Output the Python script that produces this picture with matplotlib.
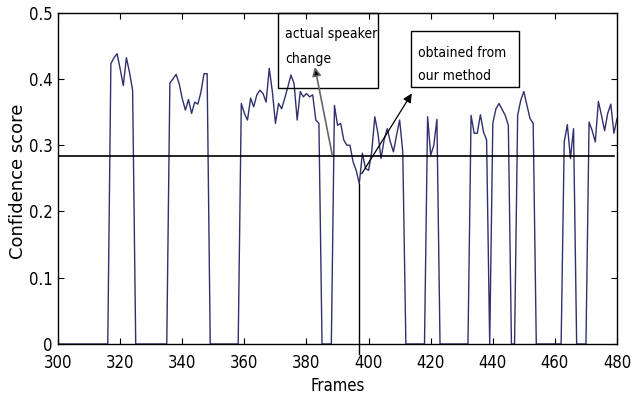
import numpy as np
import matplotlib
matplotlib.use("Agg")
import matplotlib.pyplot as plt
from matplotlib import font_manager
from matplotlib.font_manager import FontProperties
from matplotlib.patches import Rectangle

# ---------------- data ----------------
frame_start = 300
frame_end = 480
# nonzero runs of the confidence score: first frame of each run and its values
seg_starts = [317, 336, 359, 389, 419, 433, 440, 448, 463, 471]
seg_values = [
    [0.423, 0.432, 0.438, 0.415, 0.39, 0.432, 0.41, 0.383],
    [0.394, 0.40, 0.407, 0.393, 0.37, 0.353, 0.369, 0.348, 0.365, 0.362, 0.38, 0.408, 0.408],
    [0.363, 0.348, 0.338, 0.371, 0.358, 0.376, 0.383, 0.378, 0.365, 0.416, 0.381, 0.333,
     0.363, 0.355, 0.371, 0.388, 0.406, 0.393, 0.338, 0.381, 0.373, 0.378, 0.373, 0.376,
     0.338, 0.333],
    [0.36, 0.33, 0.333, 0.308, 0.30, 0.30, 0.275, 0.262, 0.242, 0.288, 0.265, 0.262, 0.29,
     0.343, 0.318, 0.28, 0.308, 0.325, 0.305, 0.29, 0.315, 0.338, 0.29],
    [0.343, 0.285, 0.30, 0.339],
    [0.345, 0.318, 0.318, 0.346, 0.32, 0.308],
    [0.333, 0.355, 0.363, 0.354, 0.345, 0.33],
    [0.345, 0.368, 0.381, 0.36, 0.34, 0.333],
    [0.305, 0.331, 0.28, 0.325],
    [0.335, 0.322, 0.305, 0.366, 0.345, 0.322, 0.348, 0.362, 0.318, 0.340],
]
threshold = 0.283
threshold_end = 479
detected_frame = 397
detected_score = 0.242

x_ticks = [300, 320, 340, 360, 380, 400, 420, 440, 460, 480]
y_ticks = [0, 0.1, 0.2, 0.3, 0.4, 0.5]
y_tick_labels = ["0", "0.1", "0.2", "0.3", "0.4", "0.5"]

frames = np.arange(frame_start, frame_end + 1)
scores = np.zeros(len(frames))
for s, vals in zip(seg_starts, seg_values):
    scores[s - frame_start: s - frame_start + len(vals)] = vals

# ---------------- fonts ----------------
def find_narrow():
    prefs = ["LiberationSansNarrow-Regular", "DejaVuSansCondensed.ttf",
             "RobotoCondensed-Regular", "OpenSans_Condensed-Regular",
             "OpenSansCondensed"]
    files = [f.fname for f in font_manager.fontManager.ttflist]
    for p in prefs:
        for fn in files:
            if p.lower() in fn.lower():
                return fn
    for fn in files:
        low = fn.lower()
        if ("narrow" in low or "condensed" in low) and "bold" not in low \
                and "italic" not in low and "oblique" not in low and "light" not in low:
            return fn
    return None

narrow_file = find_narrow()
if narrow_file:
    def nfp(size):
        return FontProperties(fname=narrow_file, size=size)
    tick_size, box_size, xl_size = 12, 10, 12
else:
    def nfp(size):
        return FontProperties(family="Liberation Sans", size=size)
    tick_size, box_size, xl_size = 10.5, 9.5, 10.5

fig = plt.figure(figsize=(6.39, 4.04), dpi=100)
ax = fig.add_axes([0.0909, 0.1485, 0.8747, 0.8201])

ax.plot(frames, scores, color="#30306e", lw=1.0)
ax.plot([frame_start, threshold_end], [threshold, threshold], color="black", lw=1.2)
ax.plot([detected_frame, detected_frame], [-0.015, detected_score], color="black",
        lw=1.0, clip_on=False)

ax.set_xlim(frame_start, frame_end)
ax.set_ylim(0, 0.5)
ax.set_xticks(x_ticks)
ax.set_xticklabels([str(t) for t in x_ticks])
ax.set_yticks(y_ticks)
ax.set_yticklabels(y_tick_labels)
for lbl in ax.get_xticklabels() + ax.get_yticklabels():
    lbl.set_fontproperties(nfp(tick_size))
ax.tick_params(direction="in", length=4, width=0.8, top=True, right=True)
ax.tick_params(axis="x", pad=7.5)
ax.tick_params(axis="y", pad=4)
for sp in ax.spines.values():
    sp.set_linewidth(1.0)

ax.set_xlabel("Frames", fontproperties=nfp(xl_size), labelpad=3)
ax.set_ylabel("Confidence score", family="DejaVu Sans", fontsize=13)
ax.yaxis.set_label_coords(-0.0556, 0.49)

# annotation boxes
box1 = Rectangle((370.7, 0.386), 403.1 - 370.7, 0.5 - 0.386, fill=False,
                 ec="black", lw=1.0, clip_on=False, zorder=5)
ax.add_patch(box1)
ax.text(373, 0.4615, "actual speaker", fontproperties=nfp(box_size), va="baseline",
        ha="left", zorder=6)
ax.text(373, 0.424, "change", fontproperties=nfp(box_size), va="baseline",
        ha="left", zorder=6)

box2 = Rectangle((413.7, 0.388), 448.4 - 413.7, 0.472 - 0.388, fill=False,
                 ec="black", lw=1.0, zorder=5)
ax.add_patch(box2)
ax.text(415.9, 0.433, "obtained from", fontproperties=nfp(box_size), va="baseline",
        ha="left", zorder=6)
ax.text(415.9, 0.398, "our method", fontproperties=nfp(box_size), va="baseline",
        ha="left", zorder=6)

ax.annotate("", xy=(382.7, 0.418), xytext=(388.3, 0.285),
            arrowprops=dict(arrowstyle="-|>", ec="#666666", fc="black", lw=1.2,
                            mutation_scale=13, shrinkA=0, shrinkB=0), zorder=7)
ax.annotate("", xy=(413.9, 0.378), xytext=(397.8, 0.257),
            arrowprops=dict(arrowstyle="-|>", ec="black", fc="black", lw=0.9,
                            mutation_scale=13, shrinkA=0, shrinkB=0), zorder=7)

fig.savefig("out.png", dpi=100)
